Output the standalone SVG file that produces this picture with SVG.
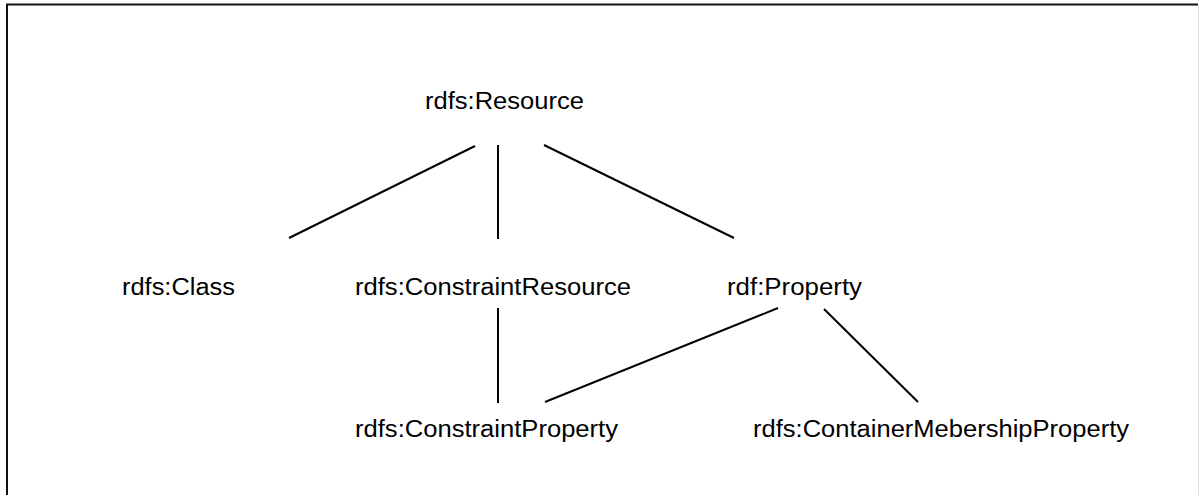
<svg xmlns="http://www.w3.org/2000/svg" width="1199" height="495" viewBox="0 0 1199 495">
  <style>
    .frame { fill: none; stroke: #111; stroke-width: 2; }
    .frame-r { stroke: #ddd; stroke-width: 1; }
    .edge { stroke: #000; stroke-width: 2; fill: none; }
    .label { font-family: "Liberation Sans", Arial, sans-serif; font-size: 23.5px; fill: #000; }
  </style>
  <rect width="1199" height="495" fill="#fff"/>
  <!-- outer frame: open at the bottom, faint on the right -->
  <path class="frame" d="M7,496 V4.5 H1198"/>
  <line class="frame-r" x1="1198.5" y1="5" x2="1198.5" y2="495"/>

  <g id="connectors">
    <line class="edge" x1="475" y1="146" x2="289" y2="238"/>
    <line class="edge" x1="498" y1="145" x2="498" y2="239"/>
    <line class="edge" x1="544" y1="145" x2="734" y2="238"/>
    <line class="edge" x1="498" y1="308" x2="498" y2="403"/>
    <line class="edge" x1="778" y1="308" x2="545" y2="402"/>
    <line class="edge" x1="824" y1="309" x2="918" y2="402"/>
  </g>

  <g id="resource">
    <text class="label" x="425" y="108.5" textLength="159" lengthAdjust="spacingAndGlyphs">rdfs:Resource</text>
  </g>
  <g id="class">
    <text class="label" x="122" y="295" textLength="113" lengthAdjust="spacingAndGlyphs">rdfs:Class</text>
  </g>
  <g id="constraint-resource">
    <text class="label" x="355" y="295" textLength="276" lengthAdjust="spacingAndGlyphs">rdfs:ConstraintResource</text>
  </g>
  <g id="property">
    <text class="label" x="727" y="295" textLength="135" lengthAdjust="spacingAndGlyphs">rdf:Property</text>
  </g>
  <g id="constraint-property">
    <text class="label" x="355" y="436.5" textLength="263" lengthAdjust="spacingAndGlyphs">rdfs:ConstraintProperty</text>
  </g>
  <g id="container-membership-property">
    <text class="label" x="753" y="436.5" textLength="376" lengthAdjust="spacingAndGlyphs">rdfs:ContainerMebershipProperty</text>
  </g>
</svg>
